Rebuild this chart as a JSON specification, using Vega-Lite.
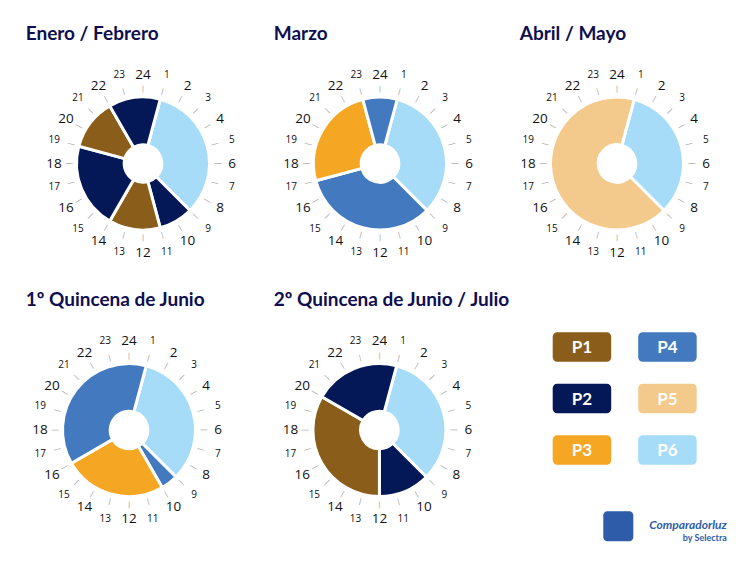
{
  "$schema": "https://vega.github.io/schema/vega-lite/v6.json",
  "background": "white",
  "padding": {"left": 25, "top": 24.5, "right": 0, "bottom": 0},
  "config": {
    "view": {"stroke": null},
    "title": {"font": "Lato", "fontWeight": "bold", "fontSize": 19, "color": "#0e0e50", "anchor": "start", "frame": "group", "baseline": "alphabetic"}
  },
  "datasets": {
    "horas": [
      {"hora": 1}, {"hora": 2}, {"hora": 3}, {"hora": 4}, {"hora": 5}, {"hora": 6},
      {"hora": 7}, {"hora": 8}, {"hora": 9}, {"hora": 10}, {"hora": 11}, {"hora": 12},
      {"hora": 13}, {"hora": 14}, {"hora": 15}, {"hora": 16}, {"hora": 17}, {"hora": 18},
      {"hora": 19}, {"hora": 20}, {"hora": 21}, {"hora": 22}, {"hora": 23}, {"hora": 24}
    ],
    "enero": [
      {"periodo": "P6", "inicio": 1, "fin": 9},
      {"periodo": "P2", "inicio": 9, "fin": 11},
      {"periodo": "P1", "inicio": 11, "fin": 14},
      {"periodo": "P2", "inicio": 14, "fin": 19},
      {"periodo": "P1", "inicio": 19, "fin": 22},
      {"periodo": "P2", "inicio": 22, "fin": 25}
    ],
    "marzo": [
      {"periodo": "P6", "inicio": 1, "fin": 9},
      {"periodo": "P4", "inicio": 9, "fin": 17},
      {"periodo": "P3", "inicio": 17, "fin": 23},
      {"periodo": "P4", "inicio": 23, "fin": 25}
    ],
    "abril": [
      {"periodo": "P6", "inicio": 1, "fin": 9},
      {"periodo": "P5", "inicio": 9, "fin": 25}
    ],
    "q1junio": [
      {"periodo": "P6", "inicio": 1, "fin": 9},
      {"periodo": "P4", "inicio": 9, "fin": 10},
      {"periodo": "P3", "inicio": 10, "fin": 16},
      {"periodo": "P4", "inicio": 16, "fin": 25}
    ],
    "q2junio": [
      {"periodo": "P6", "inicio": 1, "fin": 9},
      {"periodo": "P2", "inicio": 9, "fin": 12},
      {"periodo": "P1", "inicio": 12, "fin": 20},
      {"periodo": "P2", "inicio": 20, "fin": 25}
    ],
    "leyenda": [
      {"periodo": "P1", "columna": 1, "fila": 1},
      {"periodo": "P2", "columna": 1, "fila": 2},
      {"periodo": "P3", "columna": 1, "fila": 3},
      {"periodo": "P4", "columna": 2, "fila": 1},
      {"periodo": "P5", "columna": 2, "fila": 2},
      {"periodo": "P6", "columna": 2, "fila": 3}
    ],
    "logo": [{"marca": "icono"}]
  },
  "vconcat": [
    {
      "hconcat": [
        {
          "width": 208, "height": 200,
          "title": {"text": "Enero / Febrero", "dx": -13.3, "offset": 20},
          "layer": [
            {"data": {"name": "enero"}, "mark": {"type": "arc", "radius": 66.5, "radius2": 18.8, "stroke": "white", "strokeWidth": 3},
             "encoding": {"theta": {"field": "inicio", "type": "quantitative", "stack": null, "scale": {"domain": [0, 24], "range": [0, 6.283185307], "nice": false, "zero": false}},
                          "theta2": {"field": "fin"},
                          "color": {"field": "periodo", "type": "nominal", "legend": null, "scale": {"domain": ["P1", "P2", "P3", "P4", "P5", "P6"], "range": ["#8B5D1A", "#041858", "#F5A623", "#437ABF", "#F4C98C", "#A6DCF8"]}}}},
            {"data": {"name": "horas"}, "mark": {"type": "text", "text": "|", "radius": 74.5, "font": "DejaVu Sans", "fontSize": 7, "color": "#9a9a9a"},
             "encoding": {"theta": {"field": "hora", "type": "quantitative", "stack": null}, "angle": {"field": "hora", "type": "quantitative", "legend": null, "scale": {"domain": [0, 24], "range": [0, 360], "nice": false, "zero": false}}}},
            {"data": {"name": "horas"}, "transform": [{"filter": "datum.hora % 2 == 1"}], "mark": {"type": "text", "radius": 92, "font": "Open Sans", "fontSize": 10, "color": "#111"},
             "encoding": {"theta": {"field": "hora", "type": "quantitative", "stack": null}, "text": {"field": "hora", "type": "quantitative"}}},
            {"data": {"name": "horas"}, "transform": [{"filter": "datum.hora % 2 == 0"}], "mark": {"type": "text", "radius": 89, "font": "Open Sans", "fontSize": 13.5, "color": "#111"},
             "encoding": {"theta": {"field": "hora", "type": "quantitative", "stack": null}, "text": {"field": "hora", "type": "quantitative"}}}
          ]
        },
        {
          "width": 180, "height": 200,
          "title": {"text": "Marzo", "dx": -16.3, "offset": 20},
          "layer": [
            {"data": {"name": "marzo"}, "mark": {"type": "arc", "radius": 66.5, "radius2": 18.8, "stroke": "white", "strokeWidth": 3},
             "encoding": {"theta": {"field": "inicio", "type": "quantitative", "stack": null, "scale": {"domain": [0, 24], "range": [0, 6.283185307], "nice": false, "zero": false}},
                          "theta2": {"field": "fin"},
                          "color": {"field": "periodo", "type": "nominal", "legend": null, "scale": {"domain": ["P1", "P2", "P3", "P4", "P5", "P6"], "range": ["#8B5D1A", "#041858", "#F5A623", "#437ABF", "#F4C98C", "#A6DCF8"]}}}},
            {"data": {"name": "horas"}, "mark": {"type": "text", "text": "|", "radius": 74.5, "font": "DejaVu Sans", "fontSize": 7, "color": "#9a9a9a"},
             "encoding": {"theta": {"field": "hora", "type": "quantitative", "stack": null}, "angle": {"field": "hora", "type": "quantitative", "legend": null, "scale": {"domain": [0, 24], "range": [0, 360], "nice": false, "zero": false}}}},
            {"data": {"name": "horas"}, "transform": [{"filter": "datum.hora % 2 == 1"}], "mark": {"type": "text", "radius": 92, "font": "Open Sans", "fontSize": 10, "color": "#111"},
             "encoding": {"theta": {"field": "hora", "type": "quantitative", "stack": null}, "text": {"field": "hora", "type": "quantitative"}}},
            {"data": {"name": "horas"}, "transform": [{"filter": "datum.hora % 2 == 0"}], "mark": {"type": "text", "radius": 89, "font": "Open Sans", "fontSize": 13.5, "color": "#111"},
             "encoding": {"theta": {"field": "hora", "type": "quantitative", "stack": null}, "text": {"field": "hora", "type": "quantitative"}}}
          ]
        },
        {
          "width": 208, "height": 200,
          "title": {"text": "Abril / Mayo", "dx": 6.7, "offset": 20},
          "layer": [
            {"data": {"name": "abril"}, "mark": {"type": "arc", "radius": 66.5, "radius2": 18.8, "stroke": "white", "strokeWidth": 3},
             "encoding": {"theta": {"field": "inicio", "type": "quantitative", "stack": null, "scale": {"domain": [0, 24], "range": [0, 6.283185307], "nice": false, "zero": false}},
                          "theta2": {"field": "fin"},
                          "color": {"field": "periodo", "type": "nominal", "legend": null, "scale": {"domain": ["P1", "P2", "P3", "P4", "P5", "P6"], "range": ["#8B5D1A", "#041858", "#F5A623", "#437ABF", "#F4C98C", "#A6DCF8"]}}}},
            {"data": {"name": "horas"}, "mark": {"type": "text", "text": "|", "radius": 74.5, "font": "DejaVu Sans", "fontSize": 7, "color": "#9a9a9a"},
             "encoding": {"theta": {"field": "hora", "type": "quantitative", "stack": null}, "angle": {"field": "hora", "type": "quantitative", "legend": null, "scale": {"domain": [0, 24], "range": [0, 360], "nice": false, "zero": false}}}},
            {"data": {"name": "horas"}, "transform": [{"filter": "datum.hora % 2 == 1"}], "mark": {"type": "text", "radius": 92, "font": "Open Sans", "fontSize": 10, "color": "#111"},
             "encoding": {"theta": {"field": "hora", "type": "quantitative", "stack": null}, "text": {"field": "hora", "type": "quantitative"}}},
            {"data": {"name": "horas"}, "transform": [{"filter": "datum.hora % 2 == 0"}], "mark": {"type": "text", "radius": 89, "font": "Open Sans", "fontSize": 13.5, "color": "#111"},
             "encoding": {"theta": {"field": "hora", "type": "quantitative", "stack": null}, "text": {"field": "hora", "type": "quantitative"}}}
          ]
        }
      ],
      "spacing": 43,
      "bounds": "flush"
    },
    {
      "hconcat": [
        {
          "width": 180, "height": 200,
          "title": {"text": "1º Quincena de Junio", "dx": -13.3, "offset": 20.4},
          "layer": [
            {"data": {"name": "q1junio"}, "mark": {"type": "arc", "radius": 66.5, "radius2": 18.8, "stroke": "white", "strokeWidth": 3},
             "encoding": {"theta": {"field": "inicio", "type": "quantitative", "stack": null, "scale": {"domain": [0, 24], "range": [0, 6.283185307], "nice": false, "zero": false}},
                          "theta2": {"field": "fin"},
                          "color": {"field": "periodo", "type": "nominal", "legend": null, "scale": {"domain": ["P1", "P2", "P3", "P4", "P5", "P6"], "range": ["#8B5D1A", "#041858", "#F5A623", "#437ABF", "#F4C98C", "#A6DCF8"]}}}},
            {"data": {"name": "horas"}, "mark": {"type": "text", "text": "|", "radius": 74.5, "font": "DejaVu Sans", "fontSize": 7, "color": "#9a9a9a"},
             "encoding": {"theta": {"field": "hora", "type": "quantitative", "stack": null}, "angle": {"field": "hora", "type": "quantitative", "legend": null, "scale": {"domain": [0, 24], "range": [0, 360], "nice": false, "zero": false}}}},
            {"data": {"name": "horas"}, "transform": [{"filter": "datum.hora % 2 == 1"}], "mark": {"type": "text", "radius": 92, "font": "Open Sans", "fontSize": 10, "color": "#111"},
             "encoding": {"theta": {"field": "hora", "type": "quantitative", "stack": null}, "text": {"field": "hora", "type": "quantitative"}}},
            {"data": {"name": "horas"}, "transform": [{"filter": "datum.hora % 2 == 0"}], "mark": {"type": "text", "radius": 89, "font": "Open Sans", "fontSize": 13.5, "color": "#111"},
             "encoding": {"theta": {"field": "hora", "type": "quantitative", "stack": null}, "text": {"field": "hora", "type": "quantitative"}}}
          ]
        },
        {
          "width": 180, "height": 200,
          "title": {"text": "2º Quincena de Junio / Julio", "dx": -15.7, "offset": 20.4},
          "layer": [
            {"data": {"name": "q2junio"}, "mark": {"type": "arc", "radius": 66.5, "radius2": 18.8, "stroke": "white", "strokeWidth": 3},
             "encoding": {"theta": {"field": "inicio", "type": "quantitative", "stack": null, "scale": {"domain": [0, 24], "range": [0, 6.283185307], "nice": false, "zero": false}},
                          "theta2": {"field": "fin"},
                          "color": {"field": "periodo", "type": "nominal", "legend": null, "scale": {"domain": ["P1", "P2", "P3", "P4", "P5", "P6"], "range": ["#8B5D1A", "#041858", "#F5A623", "#437ABF", "#F4C98C", "#A6DCF8"]}}}},
            {"data": {"name": "horas"}, "mark": {"type": "text", "text": "|", "radius": 74.5, "font": "DejaVu Sans", "fontSize": 7, "color": "#9a9a9a"},
             "encoding": {"theta": {"field": "hora", "type": "quantitative", "stack": null}, "angle": {"field": "hora", "type": "quantitative", "legend": null, "scale": {"domain": [0, 24], "range": [0, 360], "nice": false, "zero": false}}}},
            {"data": {"name": "horas"}, "transform": [{"filter": "datum.hora % 2 == 1"}], "mark": {"type": "text", "radius": 92, "font": "Open Sans", "fontSize": 10, "color": "#111"},
             "encoding": {"theta": {"field": "hora", "type": "quantitative", "stack": null}, "text": {"field": "hora", "type": "quantitative"}}},
            {"data": {"name": "horas"}, "transform": [{"filter": "datum.hora % 2 == 0"}], "mark": {"type": "text", "radius": 89, "font": "Open Sans", "fontSize": 13.5, "color": "#111"},
             "encoding": {"theta": {"field": "hora", "type": "quantitative", "stack": null}, "text": {"field": "hora", "type": "quantitative"}}}
          ]
        },
        {
          "width": 187, "height": 211.3,
          "title": {"text": "Comparadorluz", "subtitle": "by Selectra", "orient": "bottom", "anchor": "end", "frame": "group", "baseline": "top", "offset": -21.7, "font": "Lato", "fontStyle": "italic", "fontWeight": "bold", "fontSize": 12, "color": "#2e5ca8", "subtitleFont": "Lato", "subtitleFontWeight": "bold", "subtitleFontSize": 9, "subtitleColor": "#2e5ca8", "subtitlePadding": 2.5},
          "layer": [
            {"data": {"name": "leyenda"}, "mark": {"type": "rect", "cornerRadius": 4.5},
             "encoding": {"x": {"field": "columna", "type": "ordinal", "axis": null, "scale": {"type": "band", "paddingInner": 0.316, "paddingOuter": 0.2515, "align": 0.3}},
                          "y": {"field": "fila", "type": "ordinal", "axis": null, "scale": {"type": "band", "paddingInner": 0.427, "paddingOuter": 0.765, "align": 0.029}},
                          "color": {"field": "periodo", "type": "nominal", "legend": null, "scale": {"domain": ["P1", "P2", "P3", "P4", "P5", "P6"], "range": ["#8B5D1A", "#041858", "#F5A623", "#437ABF", "#F4C98C", "#A6DCF8"]}}}},
            {"data": {"name": "leyenda"}, "mark": {"type": "text", "color": "white", "font": "Lato", "fontWeight": "bold", "fontSize": 17, "dy": 1},
             "encoding": {"x": {"field": "columna", "type": "ordinal", "axis": null, "scale": {"type": "band", "paddingInner": 0.316, "paddingOuter": 0.2515, "align": 0.3}},
                          "y": {"field": "fila", "type": "ordinal", "axis": null, "scale": {"type": "band", "paddingInner": 0.427, "paddingOuter": 0.765, "align": 0.029}},
                          "text": {"field": "periodo", "type": "nominal"}}},
            {"data": {"name": "logo"}, "mark": {"type": "rect", "cornerRadius": 4, "color": "#2e5ca8"},
             "encoding": {"x": {"field": "marca", "type": "nominal", "axis": null, "scale": {"type": "band", "domain": ["a", "b", "icono", "c", "d", "e"], "paddingInner": 0, "paddingOuter": 0.117, "align": 0.5}},
                          "y": {"field": "marca", "type": "nominal", "axis": null, "scale": {"type": "band", "domain": ["a", "b", "c", "d", "e", "f", "icono"], "paddingInner": 0, "paddingOuter": 0.0217, "align": 1}}}}
          ],
          "resolve": {"scale": {"x": "independent", "y": "independent"}}
        }
      ],
      "spacing": 70.4,
      "bounds": "flush"
    }
  ],
  "spacing": 26.5
}
